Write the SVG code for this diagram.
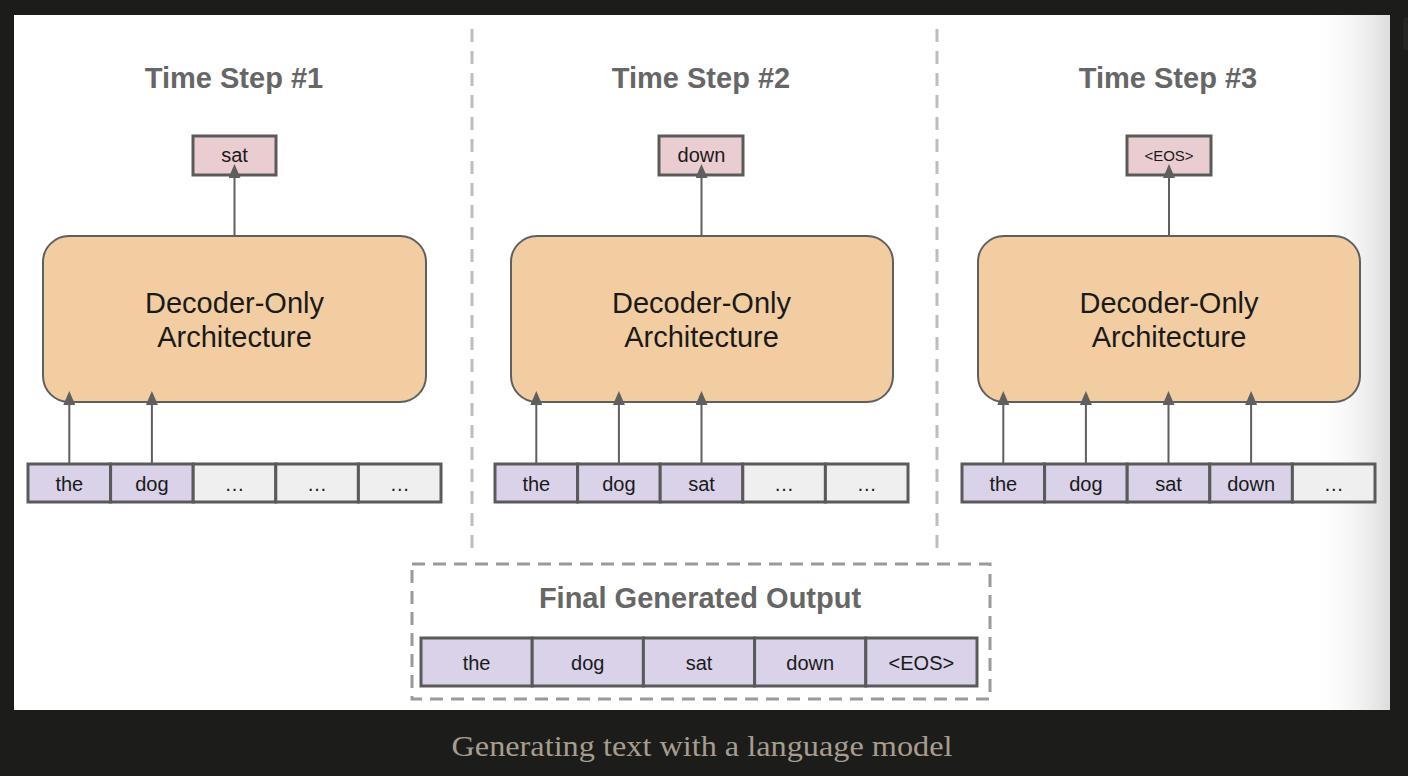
<svg xmlns="http://www.w3.org/2000/svg" width="1408" height="776" viewBox="0 0 1408 776">
<defs>
<marker id="ah" markerWidth="12" markerHeight="14" refX="6" refY="13" orient="0" markerUnits="userSpaceOnUse" viewBox="0 0 12 14">
<path d="M0,14 L6,0 L12,14 Z" fill="#5f5f5f"/>
</marker>
<linearGradient id="shade" x1="0" y1="0" x2="1" y2="0">
<stop offset="0" stop-color="#ffffff" stop-opacity="0"/>
<stop offset="1" stop-color="#dcdcdc" stop-opacity="1"/>
</linearGradient>
<style>
.title{font-family:"Liberation Sans",Arial,sans-serif;font-weight:bold;font-size:29px;fill:#666666;text-anchor:middle}
.dec{fill:#f2cda1;stroke:#5f5f5f;stroke-width:2}
.dect{font-family:"Liberation Sans",Arial,sans-serif;font-size:29px;fill:#1a1a1a;text-anchor:middle}
.out{fill:#eacdd0;stroke:#5a5a5a;stroke-width:3}
.tok{fill:#d9d2e9;stroke:#5a5a5a;stroke-width:3}
.emp{fill:#efefef;stroke:#5a5a5a;stroke-width:3}
.tt{font-family:"Liberation Sans",Arial,sans-serif;font-size:20px;fill:#1a1a1a;text-anchor:middle}
.conn line{stroke:#5f5f5f;stroke-width:2;marker-end:url(#ah)}
.div{stroke:#bdbdbd;stroke-width:3;stroke-dasharray:13 9}
</style>
</defs>
<rect x="0" y="0" width="1408" height="776" fill="#1c1c1b"/>
<rect x="1403" y="17" width="10" height="33" rx="4" fill="#252525"/>
<rect x="14" y="15" width="1376" height="695" fill="#ffffff"/>
<rect x="1310" y="15" width="80" height="695" fill="url(#shade)"/>

<g id="dividers">
<line class="div" x1="472" y1="29" x2="472" y2="550"/>
<line class="div" x1="937" y1="29" x2="937" y2="550"/>
</g>

<g id="step1">
<text class="title" x="234" y="88">Time Step #1</text>
<rect class="out" x="193" y="136" width="83" height="39"/>
<text class="tt" x="234.5" y="162">sat</text>
<rect class="dec" x="43" y="236" width="383" height="166" rx="26"/>
<text class="dect" x="234.5" y="313">Decoder-Only</text>
<text class="dect" x="234.5" y="347">Architecture</text>
<rect class="tok" x="28" y="464" width="82.6" height="38"/>
<rect class="tok" x="110.6" y="464" width="82.6" height="38"/>
<rect class="emp" x="193.2" y="464" width="82.6" height="38"/>
<rect class="emp" x="275.8" y="464" width="82.6" height="38"/>
<rect class="emp" x="358.4" y="464" width="82.6" height="38"/>
<text class="tt" x="69.3" y="491">the</text>
<text class="tt" x="151.9" y="491">dog</text>
<text class="tt" x="234.5" y="491">…</text>
<text class="tt" x="317.1" y="491">…</text>
<text class="tt" x="399.7" y="491">…</text>
</g>

<g id="step2">
<text class="title" x="701" y="88">Time Step #2</text>
<rect class="out" x="659" y="136" width="84" height="39"/>
<text class="tt" x="701.5" y="162">down</text>
<rect class="dec" x="511" y="236" width="382" height="166" rx="26"/>
<text class="dect" x="701.5" y="313">Decoder-Only</text>
<text class="dect" x="701.5" y="347">Architecture</text>
<rect class="tok" x="495" y="464" width="82.6" height="38"/>
<rect class="tok" x="577.6" y="464" width="82.6" height="38"/>
<rect class="tok" x="660.2" y="464" width="82.6" height="38"/>
<rect class="emp" x="742.8" y="464" width="82.6" height="38"/>
<rect class="emp" x="825.4" y="464" width="82.6" height="38"/>
<text class="tt" x="536.3" y="491">the</text>
<text class="tt" x="618.9" y="491">dog</text>
<text class="tt" x="701.5" y="491">sat</text>
<text class="tt" x="784.1" y="491">…</text>
<text class="tt" x="866.7" y="491">…</text>
</g>

<g id="step3">
<text class="title" x="1168" y="88">Time Step #3</text>
<rect class="out" x="1127" y="136" width="84" height="39"/>
<text class="tt" x="1169" y="161" style="font-size:15px">&lt;EOS&gt;</text>
<rect class="dec" x="978" y="236" width="382" height="166" rx="26"/>
<text class="dect" x="1169" y="313">Decoder-Only</text>
<text class="dect" x="1169" y="347">Architecture</text>
<rect class="tok" x="962" y="464" width="82.6" height="38"/>
<rect class="tok" x="1044.6" y="464" width="82.6" height="38"/>
<rect class="tok" x="1127.2" y="464" width="82.6" height="38"/>
<rect class="tok" x="1209.8" y="464" width="82.6" height="38"/>
<rect class="emp" x="1292.4" y="464" width="82.6" height="38"/>
<text class="tt" x="1003.3" y="491">the</text>
<text class="tt" x="1085.9" y="491">dog</text>
<text class="tt" x="1168.5" y="491">sat</text>
<text class="tt" x="1251.1" y="491">down</text>
<text class="tt" x="1333.7" y="491">…</text>
</g>

<g id="final">
<rect x="412" y="564" width="578" height="135" fill="none" stroke="#9a9a9a" stroke-width="3" stroke-dasharray="13 8"/>
<text class="title" x="700" y="608">Final Generated Output</text>
<rect class="tok" x="421" y="638" width="111.2" height="48"/>
<rect class="tok" x="532.2" y="638" width="111.2" height="48"/>
<rect class="tok" x="643.4" y="638" width="111.2" height="48"/>
<rect class="tok" x="754.6" y="638" width="111.2" height="48"/>
<rect class="tok" x="865.8" y="638" width="111.2" height="48"/>
<text class="tt" x="476.6" y="670">the</text>
<text class="tt" x="587.8" y="670">dog</text>
<text class="tt" x="699" y="670">sat</text>
<text class="tt" x="810.2" y="670">down</text>
<text class="tt" x="921.4" y="670">&lt;EOS&gt;</text>
</g>

<g id="connectors" class="conn">
<line x1="234.5" y1="236" x2="234.5" y2="177"/>
<line x1="69.3" y1="463" x2="69.3" y2="404"/>
<line x1="151.9" y1="463" x2="151.9" y2="404"/>
<line x1="701.5" y1="236" x2="701.5" y2="177"/>
<line x1="536.3" y1="463" x2="536.3" y2="404"/>
<line x1="618.9" y1="463" x2="618.9" y2="404"/>
<line x1="701.5" y1="463" x2="701.5" y2="404"/>
<line x1="1169" y1="236" x2="1169" y2="177"/>
<line x1="1003.3" y1="463" x2="1003.3" y2="404"/>
<line x1="1085.9" y1="463" x2="1085.9" y2="404"/>
<line x1="1168.5" y1="463" x2="1168.5" y2="404"/>
<line x1="1251.1" y1="463" x2="1251.1" y2="404"/>
</g>

<text x="702" y="756" font-family="'Liberation Serif','Times New Roman',serif" font-size="29" fill="#a69d8f" text-anchor="middle" textLength="501" lengthAdjust="spacingAndGlyphs">Generating text with a language model</text>
</svg>
